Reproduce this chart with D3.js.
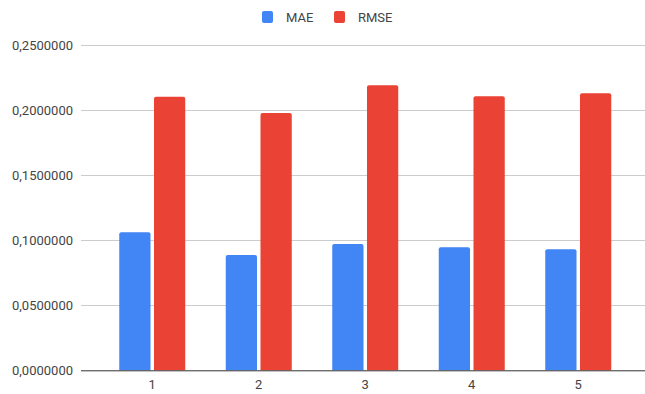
<!DOCTYPE html>
<html>
<head>
<meta charset="utf-8">
<script src="https://cdn.jsdelivr.net/npm/d3@7/dist/d3.min.js"></script>
<style>
  html, body { margin: 0; padding: 0; background: #fff; }
  svg { display: block; font-family: Roboto, Arial, sans-serif; }
</style>
</head>
<body>
<svg id="chart" width="645" height="394"></svg>
<script>
// Error metrics per run
const categories = ["1", "2", "3", "4", "5"];
const seriesNames = ["MAE", "RMSE"];
const maeValues = [0.1062, 0.0887, 0.0972, 0.0946, 0.0931];
const rmseValues = [0.2105, 0.1979, 0.2192, 0.2108, 0.2131];
const yTicks = [0, 0.05, 0.10, 0.15, 0.20, 0.25];
const colors = ["#4285F4", "#EA4335"];

const svg = d3.select("#chart");
const plotLeft = 81, plotRight = 645;
const yTop = 45.3, yBottom = 370.3;

const y = d3.scaleLinear().domain([0, 0.25]).range([yBottom, yTop]);
const x = d3.scaleBand().domain(categories).range([99, 631.5]).padding(0);
const groupWidth = 66;
const xInner = d3.scaleBand().domain(seriesNames).range([0, groupWidth]).paddingInner(0.1);

const fmt = v => d3.format(".7f")(v).replace(".", ",");

// Gridlines and y labels
const grid = svg.append("g");
yTicks.forEach(t => {
  if (t === 0) return;
  grid.append("line")
    .attr("x1", plotLeft).attr("x2", plotRight)
    .attr("y1", Math.round(y(t)) + 0.5).attr("y2", Math.round(y(t)) + 0.5)
    .attr("stroke", "#cccccc").attr("stroke-width", 1);
});

const yAxis = d3.axisLeft(y).tickValues(yTicks).tickFormat(fmt).tickSize(0).tickPadding(8);
const yg = svg.append("g").attr("transform", `translate(${plotLeft},0)`).call(yAxis);
yg.select(".domain").remove();
yg.selectAll("text").attr("fill", "#444").style("font-size", "13px")
  .style("font-family", "Roboto, Arial, sans-serif");

// Bars with slightly rounded tops
function barPath(x0, w, yTopPx, yBase, r) {
  r = Math.min(r, w / 2, yBase - yTopPx);
  return `M${x0},${yBase}V${yTopPx + r}Q${x0},${yTopPx} ${x0 + r},${yTopPx}` +
         `H${x0 + w - r}Q${x0 + w},${yTopPx} ${x0 + w},${yTopPx + r}V${yBase}Z`;
}

const rows = categories.map((c, i) => ({ cat: c, values: [maeValues[i], rmseValues[i]] }));
const groups = svg.append("g").selectAll("g").data(rows).join("g")
  .attr("transform", d => `translate(${x(d.cat) + x.bandwidth() / 2 - groupWidth / 2},0)`);

groups.selectAll("path").data(d => d.values.map((v, k) => ({ name: seriesNames[k], v, k })))
  .join("path")
  .attr("d", d => barPath(xInner(d.name), xInner.bandwidth(), y(d.v), y(0), 2))
  .attr("fill", d => colors[d.k]);

// Baseline
svg.append("line")
  .attr("x1", plotLeft).attr("x2", plotRight)
  .attr("y1", y(0) + 0.5).attr("y2", y(0) + 0.5)
  .attr("stroke", "#333").attr("stroke-width", 1);

// X axis labels
const xAxis = d3.axisBottom(x).tickSize(0).tickPadding(9);
const xg = svg.append("g").attr("transform", `translate(0,${y(0)})`).call(xAxis);
xg.select(".domain").remove();
xg.selectAll("text").attr("fill", "#444").style("font-size", "13px")
  .style("font-family", "Roboto, Arial, sans-serif");

// Legend
const legend = svg.append("g");
const legendItems = [
  { name: "MAE", x: 262, color: colors[0] },
  { name: "RMSE", x: 334, color: colors[1] }
];
legendItems.forEach(it => {
  legend.append("rect").attr("x", it.x).attr("y", 11).attr("width", 11).attr("height", 12)
    .attr("rx", 2).attr("fill", it.color);
  legend.append("text").attr("x", it.x + 24).attr("y", 21.5)
    .attr("fill", "#444").style("font-size", "13px").text(it.name);
});
</script>
</body>
</html>
